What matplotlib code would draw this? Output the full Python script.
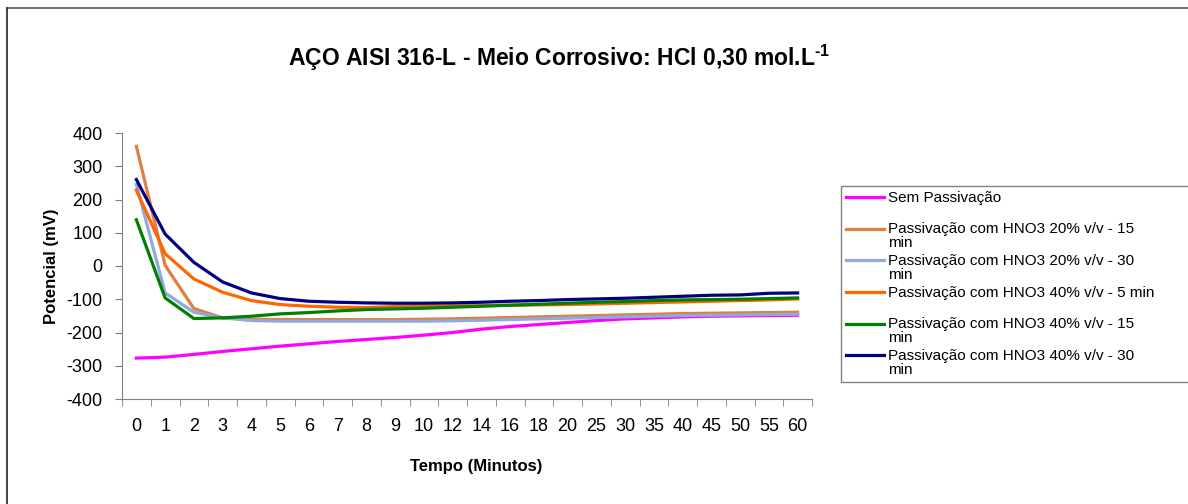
import matplotlib
matplotlib.use('Agg')
import matplotlib.pyplot as plt
from matplotlib.lines import Line2D

plt.rcParams['font.family'] = ['Liberation Sans', 'DejaVu Sans']
plt.rcParams['mathtext.fontset'] = 'custom'
plt.rcParams['mathtext.rm'] = 'Liberation Sans:bold'
plt.rcParams['mathtext.bf'] = 'Liberation Sans:bold'
plt.rcParams['axes.unicode_minus'] = False

# tempo (minutos) - eixo categórico
tempo = ['0', '1', '2', '3', '4', '5', '6', '7', '8', '9', '10', '12', '14',
         '16', '18', '20', '25', '30', '35', '40', '45', '50', '55', '60']

# potencial (mV)
sem_passivacao = [-277, -274, -266, -257, -249, -241, -234, -227, -221, -215, -208, -200,
                  -190, -182, -176, -170, -164, -159, -156, -153, -151, -150, -149, -148]
hno3_20_15 = [360, 2, -128, -156, -160, -161, -161, -161, -161, -161, -160, -159,
              -157, -155, -153, -151, -149, -147, -145, -143, -142, -141, -140, -139]
hno3_20_30 = [245, -81, -139, -156, -164, -166, -166, -166, -166, -166, -166, -165,
              -163, -161, -159, -157, -155, -153, -151, -149, -148, -147, -146, -145]
hno3_40_5 = [228, 37, -39, -79, -104, -116, -121, -124, -125, -122, -121, -120,
             -119, -118, -117, -116, -114, -112, -110, -108, -106, -104, -102, -99]
hno3_40_15 = [139, -96, -158, -156, -151, -144, -140, -135, -131, -129, -127, -124,
              -121, -118, -115, -112, -109, -107, -104, -102, -101, -100, -98, -96]
hno3_40_30 = [260, 96, 11, -48, -81, -98, -106, -109, -111, -112, -112, -111,
              -109, -106, -104, -101, -99, -97, -94, -91, -88, -87, -82, -81]

series = [
    (sem_passivacao, '#FF00FF', 'Sem Passivação\n '),
    (hno3_20_15, '#DD8040', 'Passivação com HNO3 20% v/v - 15\nmin'),
    (hno3_20_30, '#8FAADC', 'Passivação com HNO3 20% v/v - 30\nmin'),
    (hno3_40_5, '#FF6600', 'Passivação com HNO3 40% v/v - 5 min\n '),
    (hno3_40_15, '#008000', 'Passivação com HNO3 40% v/v - 15\nmin'),
    (hno3_40_30, '#000080', 'Passivação com HNO3 40% v/v - 30\nmin'),
]

fig = plt.figure(figsize=(11.88, 5.04), dpi=100)
ax = fig.add_axes([122 / 1188, 1 - 399 / 504, 690 / 1188, 266 / 504])

x = list(range(len(tempo)))
for vals, cor, nome in series:
    ax.plot(x, vals, color=cor, linewidth=2.3, label=nome)

ax.set_xlim(-0.5, len(tempo) - 0.5)
ax.set_ylim(-400, 400)
ax.set_yticks(range(-400, 401, 100))
ax.set_xticks(x)
ax.set_xticklabels(tempo)
ax.set_xticks([i - 0.5 for i in range(len(tempo) + 1)], minor=True)
ax.tick_params(axis='x', which='major', length=0, pad=14, labelsize=13)
ax.tick_params(axis='x', which='minor', length=5, color='#808080')
ax.tick_params(axis='y', length=5, pad=9, labelsize=13, color='#808080')

for s in ['top', 'right']:
    ax.spines[s].set_visible(False)
for s in ['left', 'bottom']:
    ax.spines[s].set_color('#808080')

ax.set_xlabel('Tempo (Minutos)', fontsize=12, fontweight='bold')
ax.xaxis.set_label_coords(0.513, -0.225)
ax.set_ylabel('Potencial (mV)', fontsize=12, fontweight='bold')
ax.yaxis.set_label_coords(-0.092, 0.5)

fig.text(0.471, 1 - 58 / 504, r'AÇO AISI 316-L - Meio Corrosivo: HCl 0,30 mol.L$^{\text{-1}}$',
         fontsize=16.5, fontweight='bold', ha='center', va='center')

leg = ax.legend(loc='upper left', bbox_to_anchor=(841 / 1188, 1 - 382 / 504, 0.36, 196 / 504),
                bbox_transform=fig.transFigure, mode='expand', fontsize=11, borderaxespad=0,
                handlelength=2.5, handletextpad=0.25, labelspacing=0.24, borderpad=0.3,
                fancybox=False, framealpha=1, edgecolor='#808080')
leg.get_frame().set_linewidth(1.0)
fs = 11
for t in leg.get_texts():
    t.set_linespacing(1.0)
for ln in leg.get_lines():
    yd = ln.get_ydata()
    ln.set_ydata([v + 0.5 * fs for v in yd])
    ln.set_linewidth(2.3)

# moldura parcial (topo e esquerda)
fig.add_artist(Line2D([7 / 1188, 1], [1 - 8 / 504, 1 - 8 / 504], color='#555555', lw=1.2,
                      transform=fig.transFigure))
fig.add_artist(Line2D([7 / 1188, 7 / 1188], [0, 1 - 8 / 504], color='#222222', lw=1.2,
                      transform=fig.transFigure))

fig.savefig('out.png', dpi=100, facecolor='white')
